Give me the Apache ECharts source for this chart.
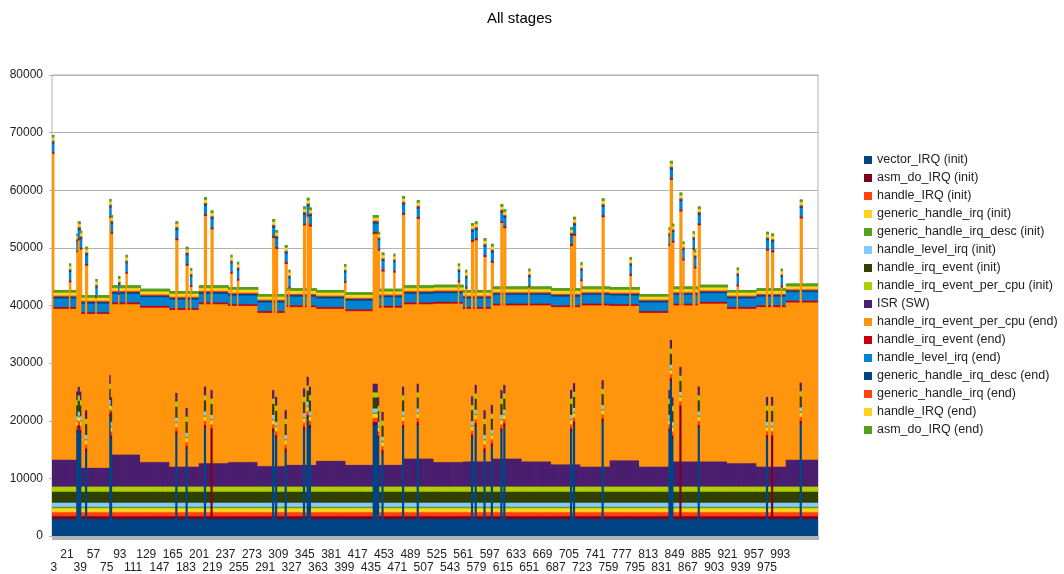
<!DOCTYPE html>
<html>
<head>
<meta charset="utf-8">
<title>All stages</title>
<script src="https://cdn.jsdelivr.net/npm/echarts@6/dist/echarts.min.js"></script>
<style>
	html, body { margin: 0; padding: 0; background: #fff; }
	#myChart { width: 1064px; height: 574px; }
</style>
</head>
<body>
<div id="myChart"></div>
<script>
	// samples on the x axis, 1 .. sampleCount
	var sampleCount = 1044;

	var seriesNames = [
		'vector_IRQ (init)', 'asm_do_IRQ (init)', 'handle_IRQ (init)', 'generic_handle_irq (init)',
		'generic_handle_irq_desc (init)', 'handle_level_irq (init)', 'handle_irq_event (init)',
		'handle_irq_event_per_cpu (init)', 'ISR (SW)', 'handle_irq_event_per_cpu (end)',
		'handle_irq_event (end)', 'handle_level_irq (end)', 'generic_handle_irq_desc (end)',
		'generic_handle_irq (end)', 'handle_IRQ (end)', 'asm_do_IRQ (end)'
	];
	var seriesColors = [
		'#004586', '#7e0021', '#ff420e', '#ffd320', '#579d1c', '#83caff', '#314004', '#aecf00',
		'#4b1f6f', '#ff950e', '#c5000b', '#0084d1', '#004586', '#ff420e', '#ffd320', '#579d1c'
	];

	// usual height of each stage (ISR and handle_irq_event_per_cpu (end) come from the blocks below)
	var usualValues = [3000, 500, 700, 700, 250, 700, 1900, 900, 0, 0, 300, 1500, 300, 200, 500, 400];

	// read per block of 40 samples: top of the ISR (SW) band, top of the whole stack
	var blockSize = 40;
	var isrTop = [13300, 11900, 14200, 12900, 12100, 12700, 12900, 12200, 12400, 13100, 12400, 12400, 13500, 12900,
		13000, 13500, 13000, 12500, 12100, 13200, 12100, 13000, 13000, 12700, 12100, 13300, 13300];
	var stackTop = [42700, 41800, 43500, 42900, 42500, 43500, 43200, 42000, 43000, 42700, 42300, 42900, 43500, 43600,
		42700, 43300, 43300, 43000, 43300, 43200, 42000, 43300, 43600, 42700, 43000, 43800, 43800];

	// peaks: [first sample, last sample, vector_IRQ (init), asm_do_IRQ (init), ISR (SW), top of stack], 0 = usual
	var peaks = [
		[1, 2, 0, 0, 0, 69600],
		[24, 25, 0, 0, 0, 47300],
		[34, 35, 18000, 0, 1500, 52500],
		[36, 38, 18800, 0, 1500, 54600],
		[39, 40, 18000, 0, 1500, 53000],
		[46, 48, 14750, 0, 1500, 50200],
		[60, 61, 0, 0, 0, 44600],
		[79, 80, 20850, 0, 1500, 58500],
		[81, 82, 17000, 0, 1500, 55700],
		[91, 92, 0, 0, 0, 45100],
		[101, 102, 0, 0, 0, 48800],
		[169, 171, 17750, 0, 1500, 54600],
		[183, 185, 15150, 0, 1500, 50200],
		[189, 190, 0, 0, 0, 46500],
		[208, 210, 18850, 0, 1500, 58800],
		[217, 219, 0, 15750, 1500, 56500],
		[244, 245, 0, 0, 0, 48800],
		[253, 254, 0, 0, 0, 47600],
		[301, 303, 18250, 0, 1500, 55000],
		[305, 307, 17050, 0, 1500, 53100],
		[318, 320, 14750, 0, 1500, 50500],
		[323, 324, 0, 0, 0, 46200],
		[343, 345, 18550, 0, 1500, 57200],
		[348, 350, 20550, 0, 1500, 58700],
		[351, 353, 18850, 0, 1500, 57000],
		[399, 400, 0, 0, 0, 47200],
		[438, 444, 19350, 0, 1500, 55700],
		[445, 446, 17000, 0, 1500, 52800],
		[450, 452, 14450, 0, 1500, 49200],
		[466, 467, 0, 0, 0, 49000],
		[478, 480, 18850, 0, 1500, 59000],
		[498, 500, 19350, 0, 1500, 58300],
		[554, 555, 0, 0, 0, 47300],
		[564, 565, 0, 0, 0, 46200],
		[572, 574, 17150, 0, 1500, 54300],
		[577, 579, 19150, 0, 1500, 54600],
		[589, 591, 14750, 0, 1500, 51700],
		[599, 601, 15650, 0, 1500, 50700],
		[612, 614, 18250, 0, 1500, 57600],
		[616, 618, 19150, 0, 1500, 56700],
		[650, 651, 0, 0, 0, 46400],
		[707, 709, 18250, 0, 1500, 53600],
		[711, 713, 19450, 0, 1500, 55400],
		[721, 722, 0, 0, 0, 47500],
		[750, 752, 19950, 0, 1500, 58600],
		[788, 789, 0, 0, 0, 48400],
		[841, 842, 18250, 0, 1500, 53600],
		[843, 845, 26950, 0, 1500, 65100],
		[846, 847, 17000, 0, 1500, 54200],
		[856, 858, 0, 19750, 1500, 59600],
		[860, 861, 0, 0, 0, 51100],
		[874, 875, 0, 0, 0, 52900],
		[876, 877, 0, 0, 0, 49700],
		[881, 883, 18850, 0, 1500, 57200],
		[934, 935, 0, 0, 0, 46600],
		[974, 976, 17050, 0, 1500, 52800],
		[981, 983, 0, 14550, 1500, 52500],
		[994, 995, 0, 0, 0, 46400],
		[1020, 1022, 19550, 0, 1500, 58400]
	];

	// build the table of values, one row per series
	var categories = [];
	var values = seriesNames.map(function() { return []; });
	for(var i = 0; i < sampleCount; i++) {
		var sample = i + 1;
		var b = Math.floor(i / blockSize);
		var v = usualValues.slice();
		var isr = isrTop[b] - (v[0] + v[1] + v[2] + v[3] + v[4] + v[5] + v[6] + v[7]);
		var stackHeight = stackTop[b];
		for(var p = 0; p < peaks.length; p++) {
			var pk = peaks[p];
			if(sample >= pk[0] && sample <= pk[1]) {
				if(pk[2]) v[0] = pk[2];
				if(pk[3]) v[1] = pk[3];
				if(pk[4]) isr = pk[4];
				stackHeight = pk[5];
			}
		}
		v[8] = isr;
		var below = 0, above = 0;
		for(var k = 0; k <= 8; k++) below += v[k];
		for(var k = 10; k < 16; k++) above += v[k];
		v[9] = stackHeight - below - above;
		for(var k = 0; k < 16; k++) values[k].push(v[k]);
		categories.push(String(sample));
	}

	// one row per sample: [index, 0, top of stage 1, top of stage 2, ... top of stage 16]
	var columnRows = [];
	for(var i = 0; i < sampleCount; i++) {
		var row = [i, 0];
		var sum = 0;
		for(var k = 0; k < 16; k++) {
			sum += values[k][i];
			row.push(sum);
		}
		columnRows.push(row);
	}

	// 1044 columns on 765 px: each column is drawn whole (all stages) and overlaps
	// its right neighbour by 1 px, the neighbour is drawn next so no seams show
	function renderColumn(params, api) {
		var idx = api.value(0);
		var w = api.size([1, 0])[0];
		var children = [];
		for(var k = 0; k < 16; k++) {
			var p0 = api.coord([idx, api.value(k + 1)]);
			var p1 = api.coord([idx, api.value(k + 2)]);
			var h = p0[1] - p1[1];
			if(h <= 0) continue;
			children.push({
				type: 'rect',
				shape: { x: p0[0] - w / 2, y: p1[1], width: w + 1, height: h + (k > 0 ? 0.5 : 0) },
				style: { fill: seriesColors[k] }
			});
		}
		return { type: 'group', children: children };
	}

	var series = [{
		name: 'columns',
		type: 'custom',
		clip: true,
		encode: { x: 0, y: 17 },
		renderItem: renderColumn,
		data: columnRows
	}];
	// one empty series per stage, only for the legend
	seriesNames.forEach(function(name, k) {
		series.push({
			name: name,
			type: 'custom',
			itemStyle: { color: seriesColors[k] },
			renderItem: function() { return null; },
			data: []
		});
	});

	var font = 'Liberation Sans, Arial, sans-serif';
	var option = {
		animation: false,
		backgroundColor: '#fff',
		title: {
			text: 'All stages',
			left: 482,
			top: 6,
			textStyle: { fontFamily: font, fontSize: 15, fontWeight: 'normal', color: '#000' }
		},
		legend: {
			orient: 'vertical',
			left: 859,
			top: 148,
			icon: 'rect',
			itemWidth: 8,
			itemHeight: 8,
			itemGap: 4,
			selectedMode: false,
			data: seriesNames,
			textStyle: { fontFamily: font, fontSize: 12.5, color: '#222', lineHeight: 14 }
		},
		grid: {
			left: 52,
			right: 246,
			top: 75,
			bottom: 37.5,
			show: true,
			borderColor: '#b3b3b3',
			borderWidth: 1
		},
		xAxis: {
			type: 'category',
			data: categories,
			boundaryGap: true,
			axisLine: { show: true, lineStyle: { color: '#b3b3b3' } },
			axisTick: { show: true, interval: 0, length: 4, lineStyle: { color: '#b3b3b3' } },
			axisLabel: {
				interval: function(idx) {
					return (idx - 2) % 18 === 0 && idx <= 1010;
				},
				formatter: function(value, idx) {
					var n = (idx - 2) / 18;
					return n % 2 === 0 ? '\n' + value : value;
				},
				margin: 12,
				fontFamily: font,
				fontSize: 12,
				lineHeight: 13,
				color: '#222'
			},
			splitLine: { show: false }
		},
		yAxis: {
			type: 'value',
			min: 0,
			max: 80000,
			interval: 10000,
			axisLine: { show: false },
			axisTick: { show: true, length: 3, lineStyle: { color: '#b3b3b3' } },
			axisLabel: {
				margin: 9,
				fontFamily: font,
				fontSize: 12,
				color: '#222',
				formatter: function(val) { return String(val); }
			},
			splitLine: { lineStyle: { color: '#b3b3b3' } }
		},
		series: series
	};

	var myChart = echarts.init(document.getElementById('myChart'));
	myChart.setOption(option);
</script>
</body>
</html>
